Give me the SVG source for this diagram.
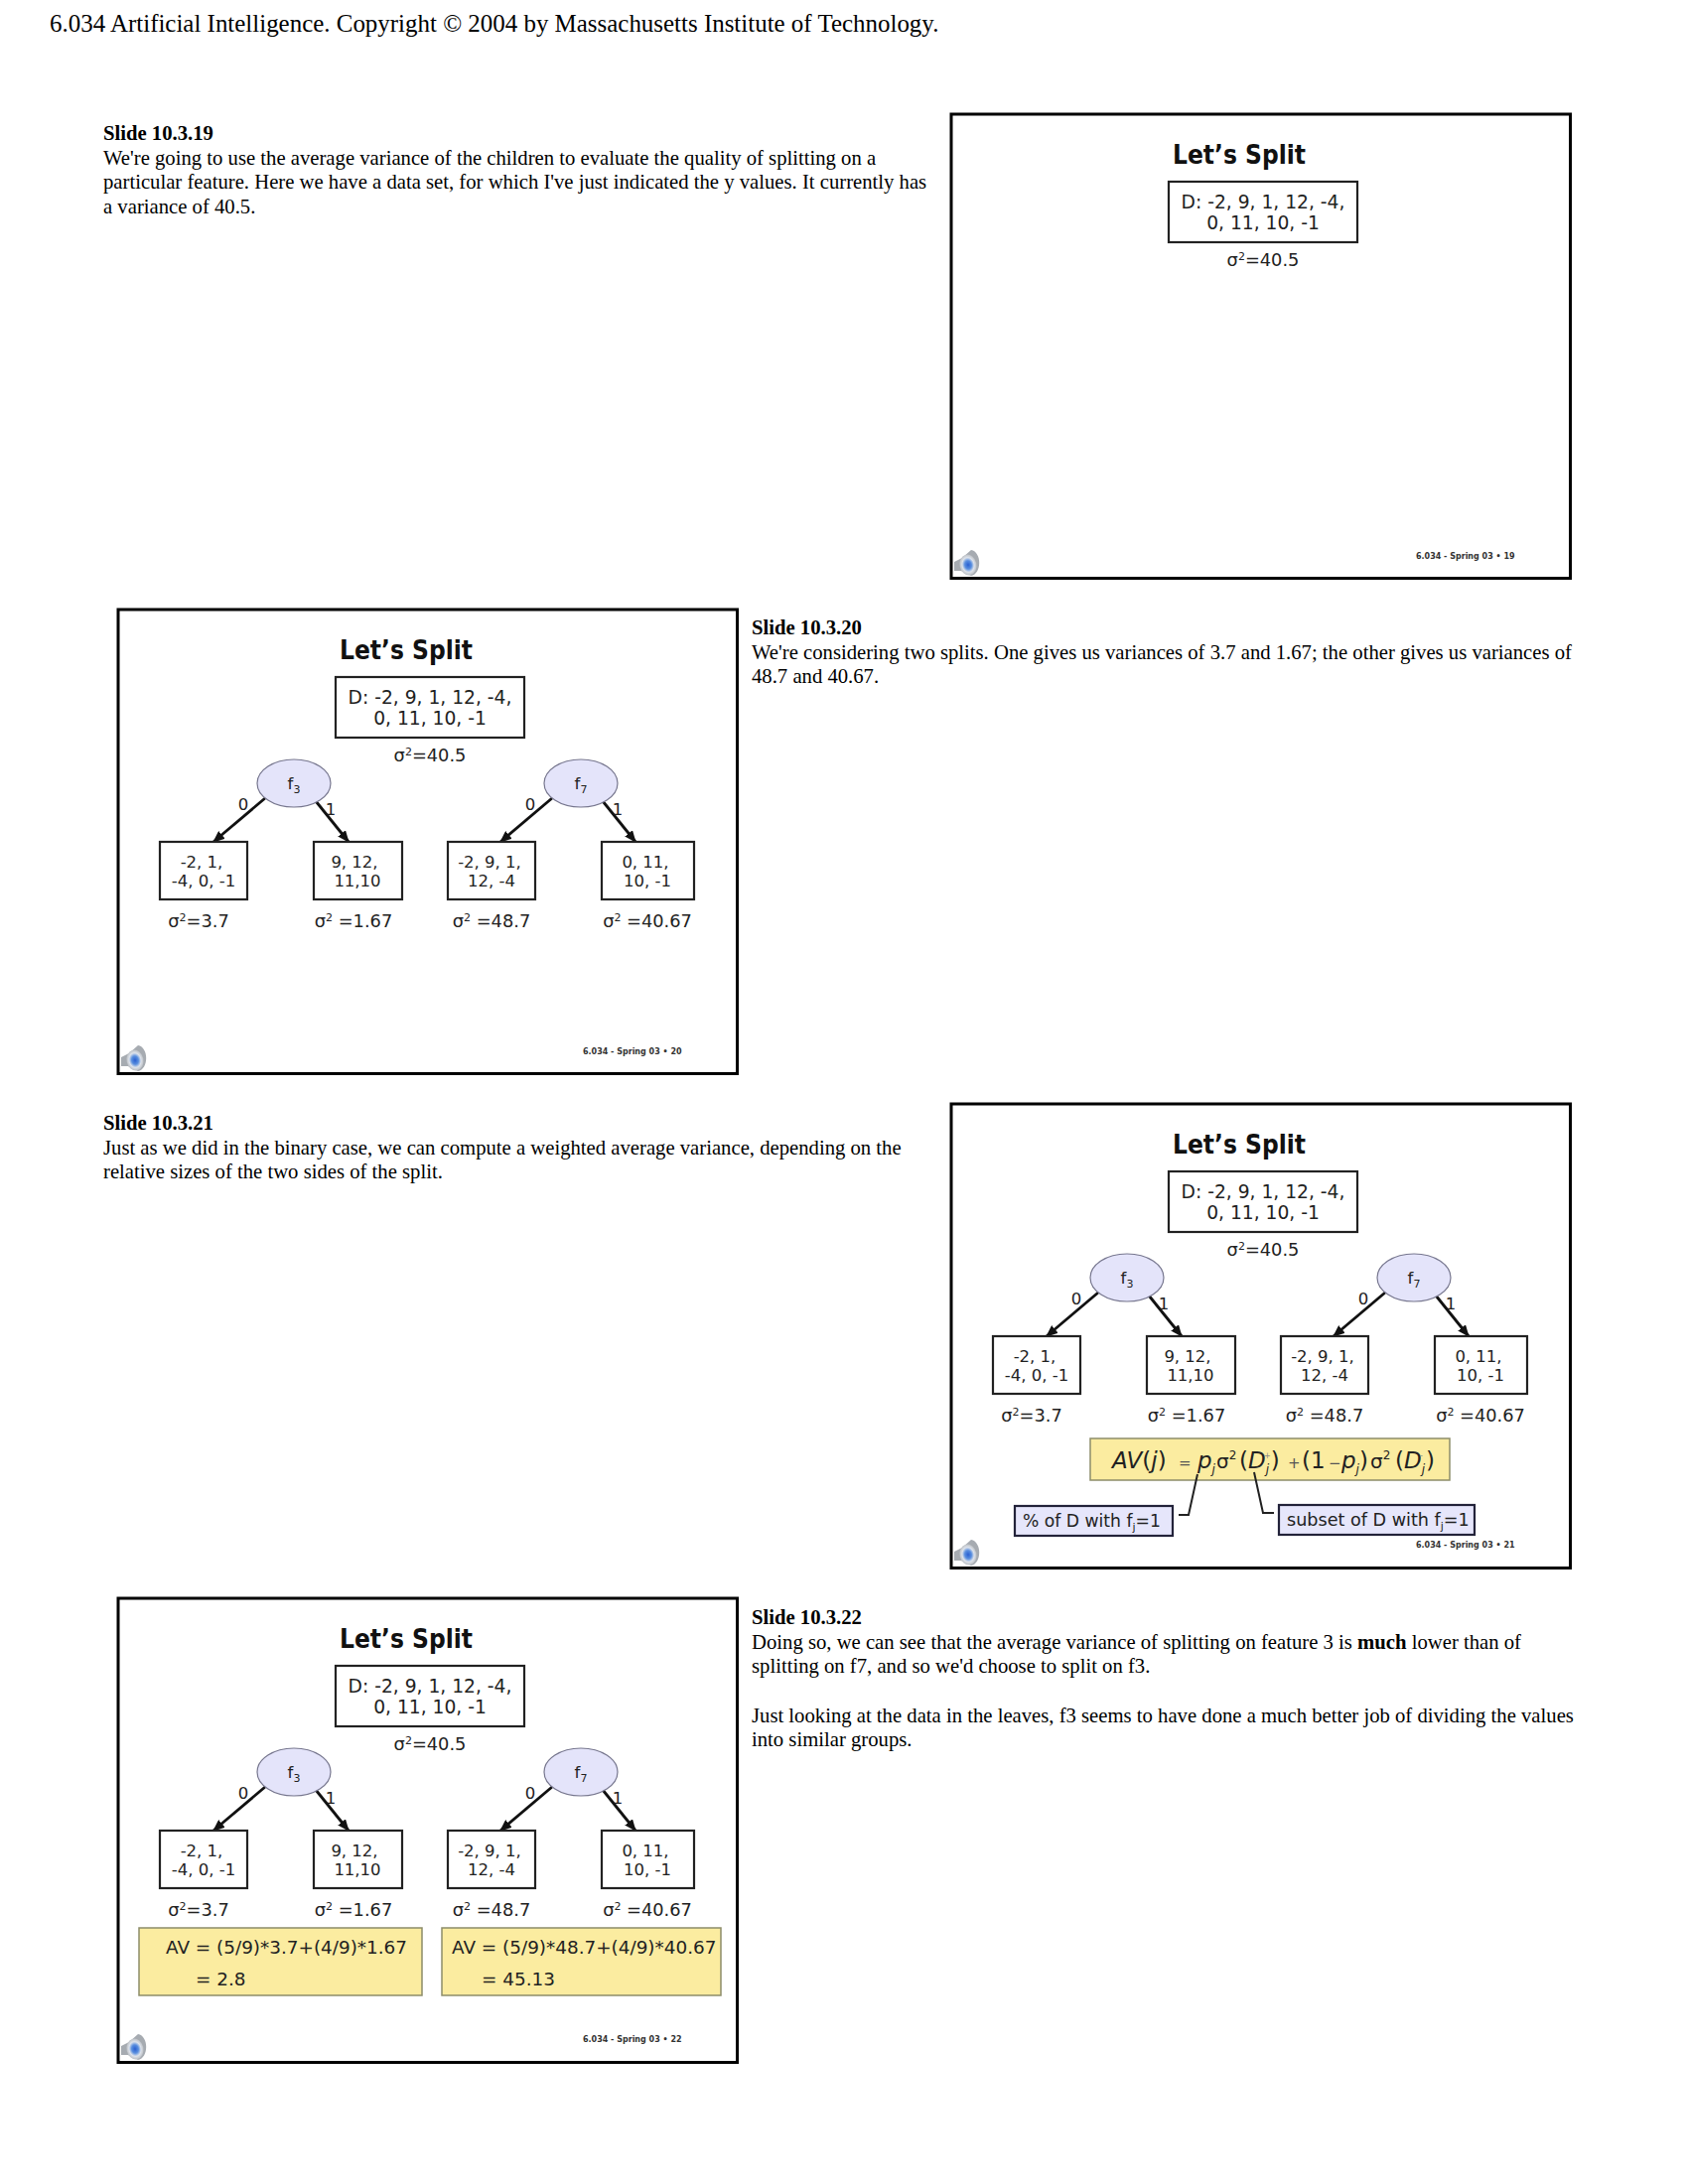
<svg xmlns="http://www.w3.org/2000/svg" width="1700" height="2200" viewBox="0 0 1700 2200">
<style>
.body{font-family:"Liberation Serif","Times New Roman",serif;font-size:20.7px;fill:#000}
.hd{font-weight:bold}
.page{font-family:"Liberation Serif","Times New Roman",serif;font-size:24.95px;fill:#000}
.frame{fill:#fff;stroke:#000;stroke-width:3}
.box{fill:#fff;stroke:#222;stroke-width:2.2}
.ell{fill:#e4e4fa;stroke:#77778f;stroke-width:1.2}
.yl{fill:#fbeca0;stroke:#8d8d6a;stroke-width:1.5}
.lav{fill:#e6e6fb;stroke:#23233a;stroke-width:2.2}
.t{font-family:"DejaVu Sans",Verdana,sans-serif;fill:#222;font-size:18.7px;text-anchor:middle}
.v{font-family:"DejaVu Sans",Verdana,sans-serif;fill:#222;font-size:17.8px;text-anchor:middle}
.s{font-family:"DejaVu Sans",Verdana,sans-serif;fill:#222;font-size:16.5px;text-anchor:middle}
.l{font-family:"DejaVu Sans",Verdana,sans-serif;fill:#222;font-size:17.6px}
.av{font-family:"DejaVu Sans",Verdana,sans-serif;fill:#222;font-size:18.4px}
.title{font-family:"DejaVu Sans",Verdana,sans-serif;fill:#111;font-size:26px;font-weight:bold}
.foot{font-family:"DejaVu Sans",Verdana,sans-serif;fill:#333;font-size:8px;font-weight:bold}
.f{font-family:"DejaVu Sans",Verdana,sans-serif;fill:#222;font-size:23px}
.i{font-style:italic}
.edge{stroke:#111;stroke-width:2.8;fill:none;marker-end:url(#ah)}
.lead{stroke:#222;stroke-width:2;fill:none}
.spk{fill:#a6abb1}
.spi{fill:url(#sg)}
</style>
<defs>
<marker id="ah" markerUnits="userSpaceOnUse" markerWidth="12" markerHeight="10" refX="11" refY="5" orient="auto"><path d="M0,0L12,5L0,10Z" fill="#111"/></marker>
<radialGradient id="sg"><stop offset="0" stop-color="#2a5fd0"/><stop offset="0.4" stop-color="#5a8fdf"/><stop offset="0.7" stop-color="#dde2ea"/><stop offset="1" stop-color="#bcc0c5"/></radialGradient>
</defs>
<rect width="1700" height="2200" fill="#fff"/>
<text class="page" x="50" y="32">6.034 Artificial Intelligence. Copyright © 2004 by Massachusetts Institute of Technology.</text>

<g id="notes19">
<text class="body hd" x="104" y="141">Slide 10.3.19</text>
<text class="body" x="104" y="165.500">We're going to use the average variance of the children to evaluate the quality of splitting on a</text>
<text class="body" x="104" y="190">particular feature. Here we have a data set, for which I've just indicated the y values. It currently has</text>
<text class="body" x="104" y="214.500">a variance of 40.5.</text>
</g>
<g id="notes20">
<text class="body hd" x="757" y="639">Slide 10.3.20</text>
<text class="body" x="757" y="663.500">We're considering two splits. One gives us variances of 3.7 and 1.67; the other gives us variances of</text>
<text class="body" x="757" y="688">48.7 and 40.67.</text>
</g>
<g id="notes21">
<text class="body hd" x="104" y="1137.500">Slide 10.3.21</text>
<text class="body" x="104" y="1162.500">Just as we did in the binary case, we can compute a weighted average variance, depending on the</text>
<text class="body" x="104" y="1186.500">relative sizes of the two sides of the split.</text>
</g>
<g id="notes22">
<text class="body hd" x="757" y="1635.500">Slide 10.3.22</text>
<text class="body" x="757" y="1660.500">Doing so, we can see that the average variance of splitting on feature 3 is <tspan font-weight="bold">much</tspan> lower than of</text>
<text class="body" x="757" y="1684.500">splitting on f7, and so we'd choose to split on f3.</text>
<text class="body" x="757" y="1734.500">Just looking at the data in the leaves, f3 seems to have done a much better job of dividing the values</text>
<text class="body" x="757" y="1758.500">into similar groups.</text>
</g>

<g id="slide19" transform="translate(839,-498)">
<rect class="frame" x="119" y="613" width="623.500" height="467.500"/>
<text class="title" x="342" y="663" textLength="134" lengthAdjust="spacingAndGlyphs">Let’s Split</text>
<g id="s19-root"><rect class="box" x="338" y="681" width="190" height="61"/><text class="t" x="433" y="708">D: -2, 9, 1, 12, -4,</text><text class="t" x="433" y="729">0, 11, 10, -1</text></g>
<text class="v" x="433" y="766">σ<tspan font-size="11" dy="-6">2</tspan><tspan dy="6">=40.5</tspan></text>
<g id="s19-speaker"><path class="spk" d="M122,1064L130,1060L139,1052C150,1054 150,1076 139,1078L129,1073L122,1073Z"/><ellipse class="spi" cx="136" cy="1067" rx="8.500" ry="10.500" transform="rotate(-12 136 1067)"/></g>
<text class="foot" x="587" y="1061">6.034 - Spring 03  • 19</text>
</g>

<g id="slide20" transform="translate(0,1)">
<rect class="frame" x="119" y="613" width="623.500" height="467.500"/>
<text class="title" x="342" y="663" textLength="134" lengthAdjust="spacingAndGlyphs">Let’s Split</text>
<g id="s20-connectors">
<path class="edge" d="M267,803L215,847"/><path class="edge" d="M318,806L351,847"/><path class="edge" d="M556,803L504,847"/><path class="edge" d="M607,806L640,847"/>
</g>
<g id="s20-root"><rect class="box" x="338" y="681" width="190" height="61"/><text class="t" x="433" y="708">D: -2, 9, 1, 12, -4,</text><text class="t" x="433" y="729">0, 11, 10, -1</text></g>
<text class="v" x="433" y="766">σ<tspan font-size="11" dy="-6">2</tspan><tspan dy="6">=40.5</tspan></text>
<g id="s20-f3"><ellipse class="ell" cx="296" cy="788" rx="37" ry="24"/><text class="s" x="296" y="794">f<tspan font-size="11" dy="4">3</tspan></text></g>
<g id="s20-f7"><ellipse class="ell" cx="585" cy="788" rx="37" ry="24"/><text class="s" x="585" y="794">f<tspan font-size="11" dy="4">7</tspan></text></g>
<text class="s" x="245" y="815">0</text><text class="s" x="333" y="820">1</text><text class="s" x="534" y="815">0</text><text class="s" x="622" y="820">1</text>
<g id="s20-a"><rect class="box" x="161" y="847" width="88" height="58"/><text class="s" x="203" y="873">-2, 1,</text><text class="s" x="205" y="892">-4, 0, -1</text></g>
<g id="s20-b"><rect class="box" x="316" y="847" width="89" height="58"/><text class="s" x="357" y="873">9, 12,</text><text class="s" x="360" y="892">11,10</text></g>
<g id="s20-c"><rect class="box" x="451" y="847" width="88" height="58"/><text class="s" x="493" y="873">-2, 9, 1,</text><text class="s" x="495" y="892">12, -4</text></g>
<g id="s20-d"><rect class="box" x="606" y="847" width="93" height="58"/><text class="s" x="650" y="873">0, 11,</text><text class="s" x="652" y="892">10, -1</text></g>
<text class="v" x="200" y="933">σ<tspan font-size="11" dy="-6">2</tspan><tspan dy="6">=3.7</tspan></text>
<text class="v" x="356" y="933">σ<tspan font-size="11" dy="-6">2</tspan><tspan dy="6"> =1.67</tspan></text>
<text class="v" x="495" y="933">σ<tspan font-size="11" dy="-6">2</tspan><tspan dy="6"> =48.7</tspan></text>
<text class="v" x="652" y="933">σ<tspan font-size="11" dy="-6">2</tspan><tspan dy="6"> =40.67</tspan></text>
<g id="s20-speaker"><path class="spk" d="M122,1064L130,1060L139,1052C150,1054 150,1076 139,1078L129,1073L122,1073Z"/><ellipse class="spi" cx="136" cy="1067" rx="8.500" ry="10.500" transform="rotate(-12 136 1067)"/></g>
<text class="foot" x="587" y="1061">6.034 - Spring 03  • 20</text>
</g>

<g id="slide21" transform="translate(839,499)">
<rect class="frame" x="119" y="613" width="623.500" height="467.500"/>
<text class="title" x="342" y="663" textLength="134" lengthAdjust="spacingAndGlyphs">Let’s Split</text>
<g id="s21-connectors">
<path class="edge" d="M267,803L215,847"/><path class="edge" d="M318,806L351,847"/><path class="edge" d="M556,803L504,847"/><path class="edge" d="M607,806L640,847"/>
</g>
<g id="s21-root"><rect class="box" x="338" y="681" width="190" height="61"/><text class="t" x="433" y="708">D: -2, 9, 1, 12, -4,</text><text class="t" x="433" y="729">0, 11, 10, -1</text></g>
<text class="v" x="433" y="766">σ<tspan font-size="11" dy="-6">2</tspan><tspan dy="6">=40.5</tspan></text>
<g id="s21-f3"><ellipse class="ell" cx="296" cy="788" rx="37" ry="24"/><text class="s" x="296" y="794">f<tspan font-size="11" dy="4">3</tspan></text></g>
<g id="s21-f7"><ellipse class="ell" cx="585" cy="788" rx="37" ry="24"/><text class="s" x="585" y="794">f<tspan font-size="11" dy="4">7</tspan></text></g>
<text class="s" x="245" y="815">0</text><text class="s" x="333" y="820">1</text><text class="s" x="534" y="815">0</text><text class="s" x="622" y="820">1</text>
<g id="s21-a"><rect class="box" x="161" y="847" width="88" height="58"/><text class="s" x="203" y="873">-2, 1,</text><text class="s" x="205" y="892">-4, 0, -1</text></g>
<g id="s21-b"><rect class="box" x="316" y="847" width="89" height="58"/><text class="s" x="357" y="873">9, 12,</text><text class="s" x="360" y="892">11,10</text></g>
<g id="s21-c"><rect class="box" x="451" y="847" width="88" height="58"/><text class="s" x="493" y="873">-2, 9, 1,</text><text class="s" x="495" y="892">12, -4</text></g>
<g id="s21-d"><rect class="box" x="606" y="847" width="93" height="58"/><text class="s" x="650" y="873">0, 11,</text><text class="s" x="652" y="892">10, -1</text></g>
<text class="v" x="200" y="933">σ<tspan font-size="11" dy="-6">2</tspan><tspan dy="6">=3.7</tspan></text>
<text class="v" x="356" y="933">σ<tspan font-size="11" dy="-6">2</tspan><tspan dy="6"> =1.67</tspan></text>
<text class="v" x="495" y="933">σ<tspan font-size="11" dy="-6">2</tspan><tspan dy="6"> =48.7</tspan></text>
<text class="v" x="652" y="933">σ<tspan font-size="11" dy="-6">2</tspan><tspan dy="6"> =40.67</tspan></text>
<g id="s21-formula"><rect class="yl" x="259" y="950" width="362" height="42"/>
<text class="f" y="980"><tspan class="i" x="281">AV</tspan><tspan>(</tspan><tspan class="i">j</tspan><tspan>)</tspan><tspan x="348" font-size="15" fill="#555">=</tspan><tspan class="i" x="367">p</tspan><tspan font-size="12" class="i" dy="5">j</tspan><tspan x="386" dy="-5" font-size="20">σ</tspan><tspan font-size="12" dy="-9">2</tspan><tspan x="409" dy="9">(</tspan><tspan class="i">D</tspan><tspan font-size="12" class="i" dy="5">j</tspan><tspan font-size="8" dx="-5" dy="-15" fill="#888">+</tspan><tspan dx="0" dy="10">)</tspan><tspan x="458" font-size="15" fill="#555">+</tspan><tspan x="472">(1</tspan><tspan x="499" font-size="15" fill="#555">−</tspan><tspan class="i" x="512">p</tspan><tspan font-size="12" class="i" dy="5">j</tspan><tspan dy="-5">)</tspan><tspan x="541" font-size="20">σ</tspan><tspan font-size="12" dy="-9">2</tspan><tspan x="566" dy="9">(</tspan><tspan class="i">D</tspan><tspan font-size="12" class="i" dy="5">j</tspan><tspan font-size="8" dx="-5" dy="-15" fill="#888">-</tspan><tspan dx="3" dy="10">)</tspan></text></g>
<g id="s21-lead"><path class="lead" d="M367,986L358,1027L348,1027"/><path class="lead" d="M424,984L433,1025L444,1025"/></g>
<g id="s21-left"><rect class="lav" x="183" y="1018" width="159" height="30"/><text class="l" x="191" y="1039" style="font-size:17.2px">% of D with f<tspan font-size="11" dy="4">j</tspan><tspan dy="-4">=1</tspan></text></g>
<g id="s21-right"><rect class="lav" x="449" y="1017" width="197" height="30"/><text class="l" x="457" y="1038">subset of D with f<tspan font-size="11" dy="4">j</tspan><tspan dy="-4">=1</tspan></text></g>
<g id="s21-speaker"><path class="spk" d="M122,1064L130,1060L139,1052C150,1054 150,1076 139,1078L129,1073L122,1073Z"/><ellipse class="spi" cx="136" cy="1067" rx="8.500" ry="10.500" transform="rotate(-12 136 1067)"/></g>
<text class="foot" x="587" y="1060">6.034 - Spring 03  • 21</text>
</g>

<g id="slide22" transform="translate(0,997)">
<rect class="frame" x="119" y="613" width="623.500" height="467.500"/>
<text class="title" x="342" y="663" textLength="134" lengthAdjust="spacingAndGlyphs">Let’s Split</text>
<g id="s22-connectors">
<path class="edge" d="M267,803L215,847"/><path class="edge" d="M318,806L351,847"/><path class="edge" d="M556,803L504,847"/><path class="edge" d="M607,806L640,847"/>
</g>
<g id="s22-root"><rect class="box" x="338" y="681" width="190" height="61"/><text class="t" x="433" y="708">D: -2, 9, 1, 12, -4,</text><text class="t" x="433" y="729">0, 11, 10, -1</text></g>
<text class="v" x="433" y="766">σ<tspan font-size="11" dy="-6">2</tspan><tspan dy="6">=40.5</tspan></text>
<g id="s22-f3"><ellipse class="ell" cx="296" cy="788" rx="37" ry="24"/><text class="s" x="296" y="794">f<tspan font-size="11" dy="4">3</tspan></text></g>
<g id="s22-f7"><ellipse class="ell" cx="585" cy="788" rx="37" ry="24"/><text class="s" x="585" y="794">f<tspan font-size="11" dy="4">7</tspan></text></g>
<text class="s" x="245" y="815">0</text><text class="s" x="333" y="820">1</text><text class="s" x="534" y="815">0</text><text class="s" x="622" y="820">1</text>
<g id="s22-a"><rect class="box" x="161" y="847" width="88" height="58"/><text class="s" x="203" y="873">-2, 1,</text><text class="s" x="205" y="892">-4, 0, -1</text></g>
<g id="s22-b"><rect class="box" x="316" y="847" width="89" height="58"/><text class="s" x="357" y="873">9, 12,</text><text class="s" x="360" y="892">11,10</text></g>
<g id="s22-c"><rect class="box" x="451" y="847" width="88" height="58"/><text class="s" x="493" y="873">-2, 9, 1,</text><text class="s" x="495" y="892">12, -4</text></g>
<g id="s22-d"><rect class="box" x="606" y="847" width="93" height="58"/><text class="s" x="650" y="873">0, 11,</text><text class="s" x="652" y="892">10, -1</text></g>
<text class="v" x="200" y="933">σ<tspan font-size="11" dy="-6">2</tspan><tspan dy="6">=3.7</tspan></text>
<text class="v" x="356" y="933">σ<tspan font-size="11" dy="-6">2</tspan><tspan dy="6"> =1.67</tspan></text>
<text class="v" x="495" y="933">σ<tspan font-size="11" dy="-6">2</tspan><tspan dy="6"> =48.7</tspan></text>
<text class="v" x="652" y="933">σ<tspan font-size="11" dy="-6">2</tspan><tspan dy="6"> =40.67</tspan></text>
<g id="s22-av3"><rect class="yl" x="140" y="945" width="285" height="68"/><text class="av" x="167" y="971">AV = (5/9)*3.7+(4/9)*1.67</text><text class="av" x="197" y="1003">= 2.8</text></g>
<g id="s22-av7"><rect class="yl" x="445" y="945" width="281" height="68"/><text class="av" x="455" y="971">AV = (5/9)*48.7+(4/9)*40.67</text><text class="av" x="485" y="1003">= 45.13</text></g>
<g id="s22-speaker"><path class="spk" d="M122,1064L130,1060L139,1052C150,1054 150,1076 139,1078L129,1073L122,1073Z"/><ellipse class="spi" cx="136" cy="1067" rx="8.500" ry="10.500" transform="rotate(-12 136 1067)"/></g>
<text class="foot" x="587" y="1060">6.034 - Spring 03  • 22</text>
</g>
</svg>
